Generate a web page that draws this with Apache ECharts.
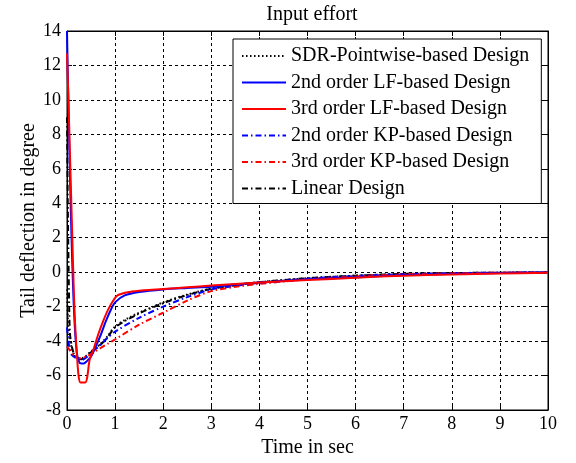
<!DOCTYPE html>
<html><head><meta charset="utf-8">
<script src="https://cdn.jsdelivr.net/npm/echarts@6/dist/echarts.min.js"></script>
<style>html,body{margin:0;padding:0;background:#fff}#c{width:576px;height:463px}</style>
</head><body><div id="c"></div>
<script>
const seriesNames = ["SDR-Pointwise-based Design","2nd order LF-based Design","3rd order LF-based Design","2nd order KP-based Design","3rd order KP-based Design","Linear Design"];
const xTicks = [0,1,2,3,4,5,6,7,8,9,10];
const yTicks = [-8,-6,-4,-2,0,2,4,6,8,10,12,14];

const sdrT = [0,0.02,0.05,0.1,0.15,0.2,0.3,0.4,0.5,0.6,0.7,0.85,1,1.25,1.5,1.75,2,2.5,3,3.5,4,5,6,7,8,9,10];
const sdrY = [-1,-2.8,-3.8,-4.4,-4.8,-5.0,-5.0,-4.85,-4.6,-4.4,-4.15,-3.7,-3.15,-2.7,-2.35,-2.05,-1.75,-1.3,-0.95,-0.75,-0.58,-0.35,-0.2,-0.1,-0.05,-0.03,-0.01];

const lf2T = [0,0.02,0.05,0.08,0.11,0.15,0.2,0.25,0.3,0.35,0.4,0.5,0.6,0.7,0.8,0.9,1,1.2,1.5,2,2.5,3,3.5,4,5,6,7,8,9,10];
const lf2Y = [14,11,7,3.5,0.5,-2.5,-4.6,-5.2,-5.3,-5.3,-5.2,-4.9,-4.3,-3.65,-2.9,-2.25,-1.75,-1.35,-1.15,-1.0,-0.92,-0.85,-0.72,-0.6,-0.42,-0.3,-0.17,-0.1,-0.05,-0.02];

const lf3T = [0,0.03,0.06,0.1,0.13,0.16,0.2,0.24,0.28,0.38,0.42,0.47,0.55,0.65,0.75,0.85,0.95,1.05,1.3,1.6,2,2.5,3,3.5,4,5,6,7,8,9,10];
const lf3Y = [12.7,10,7,3,0,-2.5,-4.5,-6.0,-6.4,-6.4,-6.1,-5.1,-4.5,-3.6,-2.85,-2.2,-1.7,-1.35,-1.15,-1.05,-0.98,-0.88,-0.78,-0.68,-0.6,-0.46,-0.32,-0.2,-0.13,-0.08,-0.04];

const kp2T = [0,0.05,0.1,0.2,0.3,0.4,0.5,0.7,0.85,1,1.5,2,2.5,3,3.5,4,5,6,7,8,9,10];
const kp2Y = [-3.2,-4.4,-4.8,-5.0,-5.1,-4.95,-4.7,-4.2,-3.8,-3.45,-2.65,-2.0,-1.45,-1.0,-0.8,-0.62,-0.38,-0.22,-0.12,-0.06,-0.03,-0.01];

const kp3T = [0,0.05,0.15,0.25,0.35,0.5,0.7,0.85,1,1.5,2,2.5,3,3.5,4,5,6,7,8,9,10];
const kp3Y = [-4.3,-4.5,-4.85,-5.0,-4.95,-4.75,-4.4,-4.15,-3.9,-3.05,-2.35,-1.65,-1.1,-0.85,-0.68,-0.42,-0.25,-0.13,-0.07,-0.03,-0.01];

const linT = [0,0.02,0.04,0.06,0.1,0.15,0.2,0.3,0.4,0.5,0.7,0.85,1,1.5,2,2.5,3,3.5,4,5,6,7,8,9,10];
const linY = [9,3,-1,-3.5,-4.3,-4.8,-5.0,-5.05,-4.9,-4.65,-4.2,-3.75,-3.2,-2.4,-1.8,-1.33,-0.97,-0.76,-0.58,-0.35,-0.2,-0.1,-0.05,-0.03,-0.01];

const zip = (t, y) => t.map((v, i) => [v, y[i]]);
const FONT = '"Liberation Serif","Times New Roman",serif';

const styles = [
  {color:'#000000', width:2, type:[1.5,2.5]},
  {color:'#0000ff', width:2, type:'solid'},
  {color:'#ff0000', width:2, type:'solid'},
  {color:'#0000ff', width:2, type:[6,3,1.5,3]},
  {color:'#ff0000', width:2, type:[6,3,1.5,3]},
  {color:'#000000', width:2, type:[6,3,1.5,3]}
];
const datas = [zip(sdrT,sdrY), zip(lf2T,lf2Y), zip(lf3T,lf3Y), zip(kp2T,kp2Y), zip(kp3T,kp3Y), zip(linT,linY)];
const drawOrder = [0,5,3,4,1,2];

const chart = echarts.init(document.getElementById('c'), null, {renderer:'canvas'});
const splitDash = {show:true, lineStyle:{color:'#000', width:1, type:[3,3]}};
chart.setOption({
  animation:false,
  backgroundColor:'#fff',
  textStyle:{fontFamily:FONT},
  title:{text:'Input effort', left:307, top:0, textAlign:'center',
    textStyle:{fontFamily:FONT, fontSize:20, fontWeight:'normal', color:'#000'}},
  grid:{left:67, top:31, width:481, height:379, show:true, borderColor:'#000', borderWidth:1, backgroundColor:'transparent'},
  legend:{
    orient:'vertical', left:233, top:39,
    data: seriesNames,
    backgroundColor:'#fff', borderColor:'#000', borderWidth:1,
    padding:[7,12,5,8], itemWidth:44, itemHeight:14, itemGap:6.5,
    itemStyle:{opacity:0},
    textStyle:{fontFamily:FONT, fontSize:20, color:'#000', lineHeight:20}
  },
  xAxis:[
    {type:'value', min:0, max:10, interval:1, position:'bottom',
     name:'Time in sec', nameLocation:'middle', nameGap:21,
     nameTextStyle:{fontFamily:FONT, fontSize:20, color:'#000'},
     axisLine:{show:true, onZero:false, lineStyle:{color:'#000'}},
     axisTick:{show:true, inside:true, length:5, lineStyle:{color:'#000'}},
     axisLabel:{fontFamily:FONT, fontSize:18, color:'#000', margin:5},
     splitLine:splitDash},
    {type:'value', min:0, max:10, interval:1, position:'top',
     axisLine:{show:true, onZero:false, lineStyle:{color:'#000'}},
     axisTick:{show:true, inside:true, length:5, lineStyle:{color:'#000'}},
     axisLabel:{show:false}, splitLine:{show:false}}
  ],
  yAxis:[
    {type:'value', min:-8, max:14, interval:2, position:'left',
     name:'Tail deflection in degree', nameLocation:'middle', nameGap:28, nameRotate:90,
     nameMoveOverlap:false,
     nameTextStyle:{fontFamily:FONT, fontSize:20, color:'#000'},
     axisLine:{show:true, onZero:false, lineStyle:{color:'#000'}},
     axisTick:{show:true, inside:true, length:5, lineStyle:{color:'#000'}},
     axisLabel:{fontFamily:FONT, fontSize:18, color:'#000', margin:6},
     splitLine:splitDash},
    {type:'value', min:-8, max:14, interval:2, position:'right',
     axisLine:{show:true, onZero:false, lineStyle:{color:'#000'}},
     axisTick:{show:true, inside:true, length:5, lineStyle:{color:'#000'}},
     axisLabel:{show:false}, splitLine:{show:false}}
  ],
  series: drawOrder.map(i => ({
    name: seriesNames[i], type:'line', data: datas[i], smooth:0.3,
    symbol:'none', showSymbol:false, z: 2 + drawOrder.indexOf(i),
    lineStyle: styles[i], itemStyle:{color:styles[i].color}
  }))
});
</script></body></html>
